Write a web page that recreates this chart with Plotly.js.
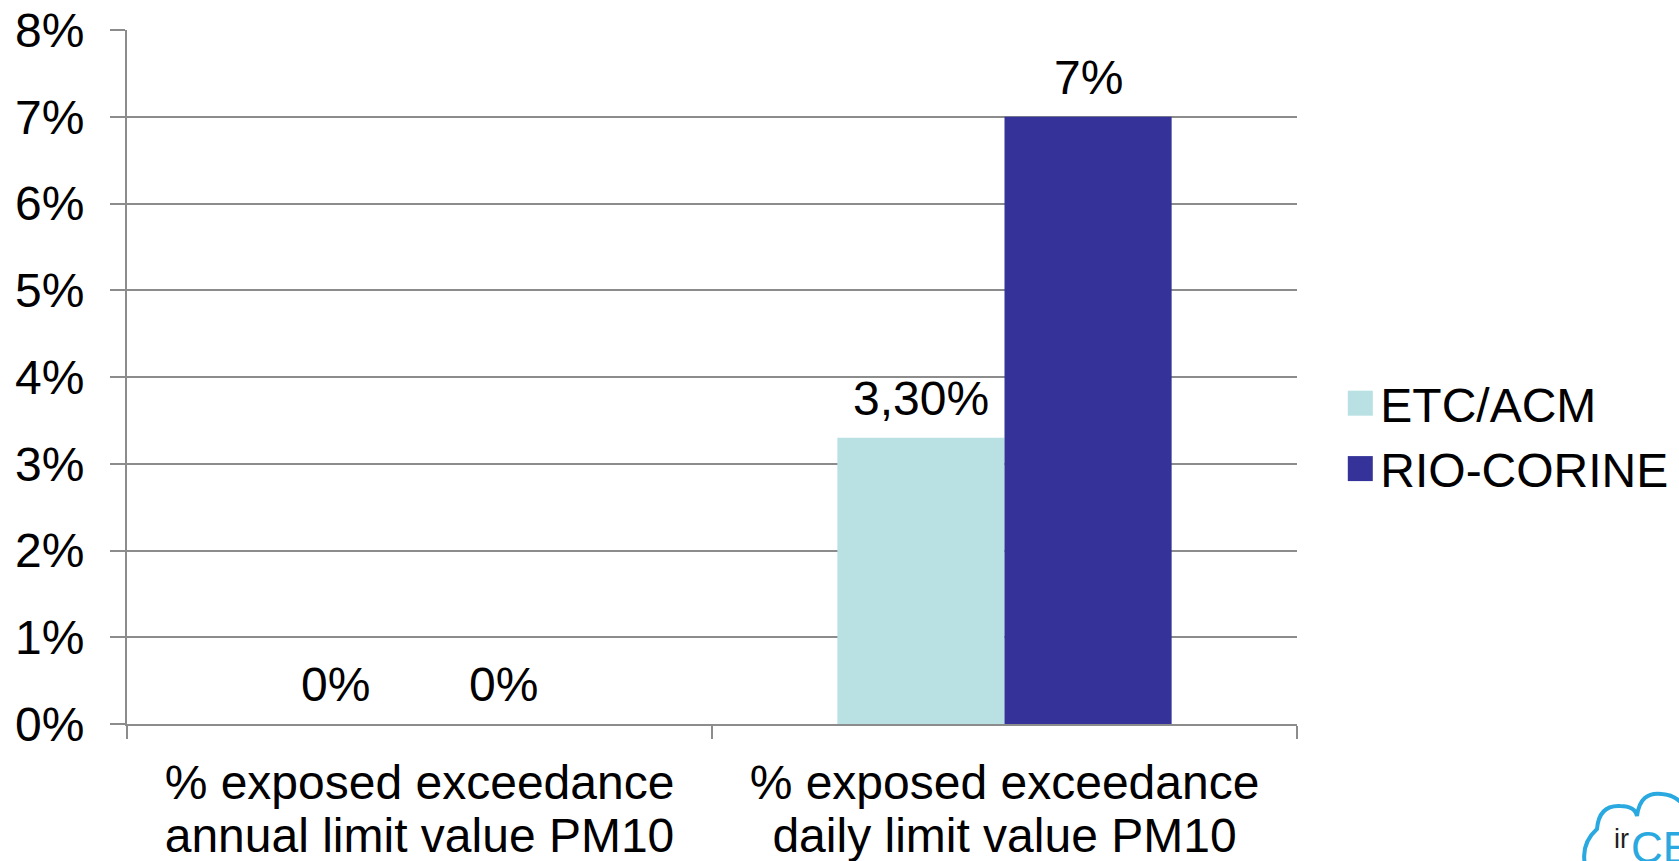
<!DOCTYPE html>
<html>
<head>
<meta charset="utf-8">
<script src="https://cdn.plot.ly/plotly-3.0.1.min.js"></script>
<style>
  html, body { margin: 0; padding: 0; background: #ffffff; }
  #chart { width: 1679px; height: 861px; }
</style>
</head>
<body>
<div id="chart"></div>
<script>
// ---- data ----
const categories = [
  "% exposed exceedance<br>annual limit value PM10",
  "% exposed exceedance<br>daily limit value PM10"
];
const seriesNames = ["ETC/ACM", "RIO-CORINE"];
const etcValues = [0, 0.033];
const rioValues = [0, 0.07];
const etcLabels = ["0%", "3,30%"];
const rioLabels = ["0%", "7%"];
const yTickVals = [0, 0.01, 0.02, 0.03, 0.04, 0.05, 0.06, 0.07, 0.08];
const yTickText = ["0%", "1%", "2%", "3%", "4%", "5%", "6%", "7%", "8%"];

// ---- style ----
const FONT = "Liberation Sans, Arial, sans-serif";
const FS = 48;
const GRID = "#8c8c8c";
const colors = ["#b9e0e3", "#353399"];
const BARGAP = 1.5 / 3.5;
const W = 1679, H = 861;
const M = { l: 127, r: 382, t: 30, b: 137, autoexpand: false };

const seriesValues = [etcValues, rioValues];
const seriesLabels = [etcLabels, rioLabels];

const traces = seriesNames.map((name, i) => ({
  type: "bar",
  name: name,
  x: categories,
  y: seriesValues[i],
  marker: { color: colors[i], line: { width: 0 } },
  hoverinfo: "skip"
}));

// data labels, placed above each bar via the axis scales
const nS = seriesNames.length;
const barW = (1 - BARGAP) / nS;
const annotations = [];
seriesValues.forEach((vals, i) => {
  vals.forEach((v, j) => {
    annotations.push({
      xref: "x", yref: "y",
      x: j - (1 - BARGAP) / 2 + barW * (i + 0.5),
      y: v,
      text: seriesLabels[i][j],
      showarrow: false,
      xanchor: "center", yanchor: "bottom",
      yshift: 11,
      font: { family: FONT, size: FS, color: "#000000" }
    });
  });
});

// decorative logo fragment (bottom-right corner)
const pw = W - M.l - M.r, ph = H - M.t - M.b;
const px = v => ((v - M.l) / pw).toFixed(4);
const py = v => ((H - M.b - v) / ph).toFixed(4);
const cloudPts = [
  ["M", 1587, 872], ["Q", 1578, 846, 1597, 829], ["Q", 1599, 805, 1620, 806],
  ["Q", 1635, 806, 1637, 816], ["Q", 1640, 791, 1662, 794], ["Q", 1676, 795, 1684, 806]
];
const cloudPath = cloudPts.map(p => p[0] + " " + p.slice(1).map((c, k) => k % 2 === 0 ? px(c) : py(c)).join(",")).join(" ");
annotations.push({
  xref: "paper", yref: "paper", x: (1612 - M.l) / pw, y: (H - M.b - 856) / ph,
  xanchor: "left", yanchor: "bottom", showarrow: false,
  text: "ir", font: { family: FONT, size: 27, color: "#231f20" }
});
annotations.push({
  xref: "paper", yref: "paper", x: (1629 - M.l) / pw, y: (H - M.b - 821) / ph,
  xanchor: "left", yanchor: "top", showarrow: false,
  text: "CE", font: { family: FONT, size: 44, color: "#29a9e0" }
});

const layout = {
  width: W, height: H,
  margin: M,
  paper_bgcolor: "#ffffff",
  plot_bgcolor: "#ffffff",
  font: { family: FONT, size: FS, color: "#000000" },
  barmode: "group",
  bargap: BARGAP,
  bargroupgap: 0,
  showlegend: true,
  legend: {
    x: 1.037, xanchor: "left",
    y: 0.415, yanchor: "middle",
    font: { family: FONT, size: FS, color: "#000000" },
    traceorder: "normal",
    bgcolor: "rgba(0,0,0,0)"
  },
  xaxis: {
    type: "category",
    tickson: "boundaries",
    ticks: "outside",
    ticklen: 13,
    tickwidth: 2,
    tickcolor: GRID,
    showline: true,
    linecolor: GRID,
    linewidth: 2,
    showgrid: false,
    zeroline: false,
    ticklabelstandoff: 15,
    tickfont: { family: FONT, size: FS, color: "#000000" },
    fixedrange: true
  },
  yaxis: {
    range: [0, 0.08],
    tickvals: yTickVals,
    ticktext: yTickText,
    ticks: "outside",
    ticklen: 15,
    tickwidth: 2,
    tickcolor: GRID,
    showline: true,
    linecolor: GRID,
    linewidth: 2,
    showgrid: true,
    gridcolor: GRID,
    gridwidth: 2,
    zeroline: false,
    ticklabelstandoff: 16,
    tickfont: { family: FONT, size: FS, color: "#000000" },
    fixedrange: true
  },
  annotations: annotations,
  shapes: [{
    type: "path", xref: "paper", yref: "paper",
    path: cloudPath,
    line: { color: "#29a9e0", width: 4 },
    fillcolor: "rgba(0,0,0,0)"
  }]
};

Plotly.newPlot("chart", traces, layout, { staticPlot: true, displayModeBar: false }).then(gd => {
  // larger square legend swatches, like the reference
  gd.querySelectorAll(".legendpoints path").forEach(p => {
    p.setAttribute("d", "M12.5,12.5H-12.5V-12.5H12.5Z");
  });
  gd.querySelectorAll(".legend [clip-path]").forEach(el => el.removeAttribute("clip-path"));
  // tighter line spacing for the two-line category labels
  gd.querySelectorAll(".xtick text tspan.line").forEach(t => {
    if (t.getAttribute("dy") === "1.3em") t.setAttribute("dy", "1.12em");
  });
});
</script>
</body>
</html>
